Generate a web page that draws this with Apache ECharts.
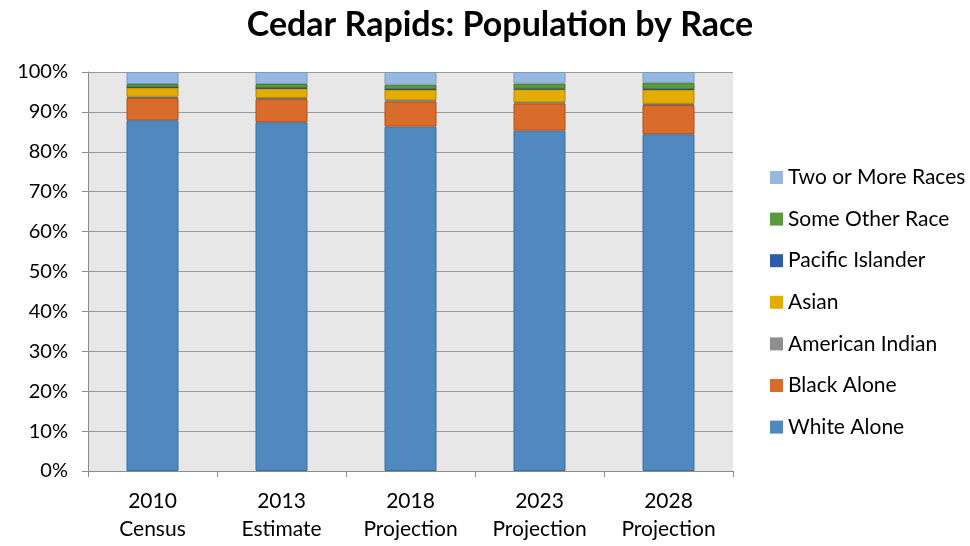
<!DOCTYPE html>
<html>
<head>
<meta charset="utf-8">
<script src="https://cdn.jsdelivr.net/npm/echarts@6/dist/echarts.min.js"></script>
<style>
  html, body { margin: 0; padding: 0; background: #fff; }
  #chart { width: 970px; height: 546px; }
</style>
</head>
<body>
<div id="chart"></div>
<script>
// Population share by race, in percent of total, per census / projection year
const categories = ['2010\nCensus', '2013\nEstimate', '2018\nProjection', '2023\nProjection', '2028\nProjection'];
const whiteAlone      = [87.9, 87.4, 86.3, 85.3, 84.4];
const blackAlone      = [5.6, 5.8, 6.3, 6.8, 7.3];
const americanIndian  = [0.3, 0.3, 0.3, 0.3, 0.3];
const asian           = [2.3, 2.4, 2.7, 3.3, 3.6];
const pacificIslander = [0.1, 0.1, 0.1, 0.1, 0.1];
const someOtherRace   = [0.8, 1.0, 1.1, 1.3, 1.6];
const twoOrMoreRaces  = [3.0, 3.0, 3.2, 2.9, 2.7];
const yTicks = ['0%', '10%', '20%', '30%', '40%', '50%', '60%', '70%', '80%', '90%', '100%'];

const FONT = 'Lato, "Open Sans", sans-serif';

const seriesDefs = [
  { name: 'White Alone',       data: whiteAlone,      color: '#4F89BF', border: '#3E6E9C' },
  { name: 'Black Alone',       data: blackAlone,      color: '#D96B2B', border: '#A9531F' },
  { name: 'American Indian',   data: americanIndian,  color: '#8E8E8E', border: '#6E6E6E' },
  { name: 'Asian',             data: asian,           color: '#E4AC00', border: '#B38700' },
  { name: 'Pacific Islander',  data: pacificIslander, color: '#2D5CA8', border: '#234884' },
  { name: 'Some Other Race',   data: someOtherRace,   color: '#5B9A3C', border: '#46782E' },
  { name: 'Two or More Races', data: twoOrMoreRaces,  color: '#96B8E1', border: '#7A9AC0' }
];

const chart = echarts.init(document.getElementById('chart'), null, { renderer: 'canvas' });

chart.setOption({
  animation: false,
  backgroundColor: '#ffffff',
  title: {
    text: 'Cedar Rapids: Population by Race',
    left: 495, top: 3, textAlign: 'center',
    textStyle: { fontFamily: FONT, fontWeight: 'bold', fontSize: 34, color: '#000' }
  },
  legend: {
    orient: 'vertical',
    left: 765, top: 162,
    itemWidth: 13, itemHeight: 13, itemGap: 20.6,
    icon: 'rect',
    data: seriesDefs.map(s => s.name).reverse(),
    itemStyle: { borderWidth: 0 },
    textStyle: { fontFamily: FONT, fontSize: 21, color: '#000', padding: [0, 0, 0, 0] }
  },
  grid: {
    left: 88, right: 237, top: 72, bottom: 75,
    show: true, backgroundColor: '#E7E7E7', borderWidth: 0
  },
  xAxis: {
    type: 'category',
    data: categories,
    boundaryGap: true,
    axisLine: { show: true, lineStyle: { color: '#8C8C8C', width: 1 } },
    axisTick: { show: true, alignWithLabel: false, length: 6, lineStyle: { color: '#8C8C8C' } },
    axisLabel: { fontFamily: FONT, fontSize: 21, color: '#000', lineHeight: 28, margin: 16 }
  },
  yAxis: {
    type: 'value',
    min: 0, max: 100, interval: 10,
    axisLine: { show: true, lineStyle: { color: '#8C8C8C', width: 1 } },
    axisTick: { show: true, length: 6, lineStyle: { color: '#8C8C8C' } },
    splitLine: { show: true, lineStyle: { color: '#9A9A9A', width: 1 } },
    axisLabel: {
      fontFamily: FONT, fontSize: 20, color: '#000', margin: 20,
      formatter: v => yTicks[Math.round(v / 10)]
    }
  },
  series: seriesDefs.map(s => ({
    name: s.name,
    type: 'bar',
    stack: 'total',
    barWidth: 52,
    data: s.data,
    itemStyle: { color: s.color, borderColor: s.border, borderWidth: 1 },
    emphasis: { disabled: true }
  }))
});
</script>
</body>
</html>
